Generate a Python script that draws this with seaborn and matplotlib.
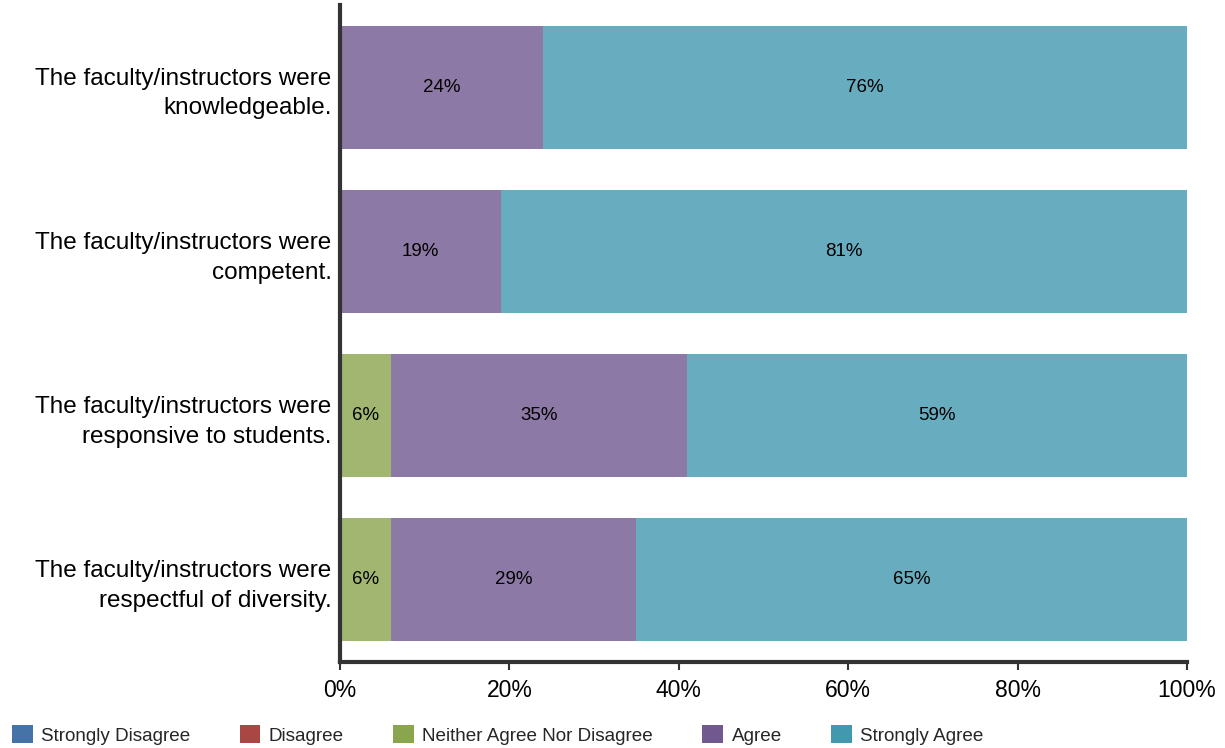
import matplotlib
matplotlib.use("Agg")
import matplotlib.pyplot as plt
import seaborn as sns
import pandas as pd
import numpy as np
from matplotlib.patches import Patch

# ---- data ----
questions = [
    "The faculty/instructors were\nknowledgeable.",
    "The faculty/instructors were\ncompetent.",
    "The faculty/instructors were\nresponsive to students.",
    "The faculty/instructors were\nrespectful of diversity.",
]
responses = ["Strongly Disagree", "Disagree", "Neither Agree Nor Disagree", "Agree", "Strongly Agree"]
strongly_disagree = [0, 0, 0, 0]
disagree = [0, 0, 0, 0]
neither = [0, 0, 6, 6]
agree = [24, 19, 35, 29]
strongly_agree = [76, 81, 59, 65]
x_ticks = [0, 20, 40, 60, 80, 100]

legend_colors = ["#4572A7", "#AA4643", "#89A54E", "#71588F", "#4198AF"]

def lighten(hexc, a=0.8):
    r, g, b = matplotlib.colors.to_rgb(hexc)
    return (r * a + (1 - a), g * a + (1 - a), b * a + (1 - a))

bar_colors = [lighten(c) for c in legend_colors]

sns.set_theme(style="white")
plt.rcParams["font.family"] = ["Liberation Sans", "DejaVu Sans"]

fig = plt.figure(figsize=(12.25, 7.48), dpi=100)
ax = fig.add_axes([340 / 1225, 1 - 662 / 748, (1187 - 340) / 1225, (662 - 5) / 748])

series = [strongly_disagree, disagree, neither, agree, strongly_agree]
cum = np.cumsum(np.array(series), axis=0)

# draw cumulative layers from the top down so each segment shows
for i in range(len(series) - 1, -1, -1):
    df = pd.DataFrame({"q": questions, "v": cum[i]})
    sns.barplot(data=df, x="v", y="q", orient="h", color=bar_colors[i],
                width=0.75, ax=ax, saturation=1, edgecolor="none", linewidth=0)

# segment labels
for i, vals in enumerate(series):
    for j, v in enumerate(vals):
        if v > 0:
            left = cum[i][j] - v
            ax.text(left + v / 2, j, f"{v}%", ha="center", va="center",
                    fontsize=13.5, color="black")

ax.set_xlim(0, 100)
ax.set_ylim(3.5, -0.5)
ax.set_xticks(x_ticks)
ax.set_xticklabels([f"{t}%" for t in x_ticks], fontsize=16.5, color="black")
ax.set_ylabel("")
ax.set_xlabel("")
ax.tick_params(axis="y", labelsize=17.5, colors="black", length=3, width=1, pad=3)
ax.tick_params(axis="x", length=6, width=1.5, color="#333333", pad=6, bottom=True)
for lab in ax.get_yticklabels():
    lab.set_horizontalalignment("right")
    lab.set_multialignment("right")
    lab.set_linespacing(1.45)
for s in ["top", "right"]:
    ax.spines[s].set_visible(False)
for s in ["left", "bottom"]:
    ax.spines[s].set_color("#333333")
    ax.spines[s].set_linewidth(3)
ax.grid(False)

handles = [Patch(facecolor=c, edgecolor="none") for c in legend_colors]
fig.legend(handles, responses, loc="center left", bbox_to_anchor=(12 / 1225, 1 - 735 / 748),
           ncol=5, frameon=False, fontsize=13.6, handlelength=1.1, handleheight=1.1,
           handletextpad=0.45, columnspacing=2.6, borderpad=0, borderaxespad=0)

fig.savefig("out.png", dpi=100, facecolor="white")
